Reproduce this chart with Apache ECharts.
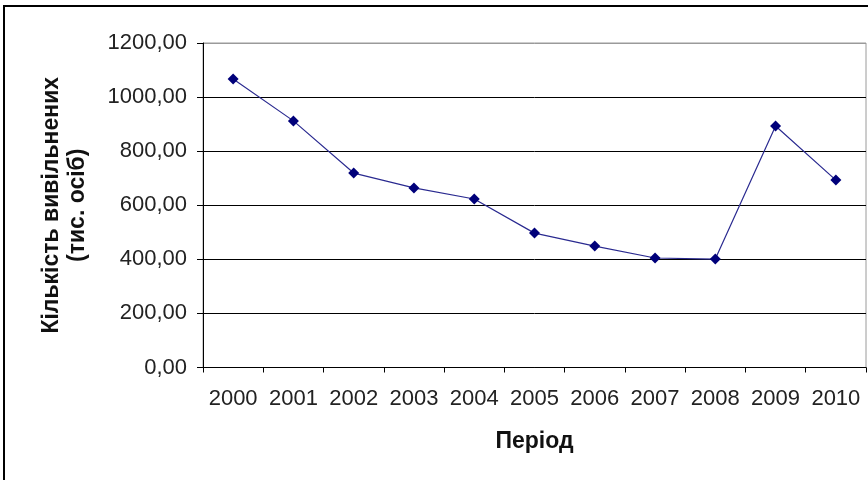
<!DOCTYPE html>
<html>
<head>
<meta charset="utf-8">
<script src="https://cdn.jsdelivr.net/npm/echarts@6/dist/echarts.min.js"></script>
<style>
html,body{margin:0;padding:0;background:#fff;}
#frame{position:absolute;left:3px;top:5px;width:900px;height:500px;border:2px solid #000;box-sizing:border-box;}
#chart{position:absolute;left:0;top:0;width:868px;height:480px;}
</style>
</head>
<body>
<div id="frame"></div>
<div id="chart"></div>
<script>
const categories = ['2000','2001','2002','2003','2004','2005','2006','2007','2008','2009','2010'];
const values = [1067, 912, 719, 664, 623, 497, 449, 405, 401, 893, 693];
const yMin = 0, yMax = 1200, yStep = 200;
const xTitle = 'Період';
const yTitle = 'Кількість вивільнених\n(тис. осіб)';

const font = '"Liberation Sans", Arial, sans-serif';
const chart = echarts.init(document.getElementById('chart'), null, {renderer:'canvas'});
chart.setOption({
  backgroundColor: 'transparent',
  animation: false,
  grid: {left: 203, right: 2, top: 43, bottom: 112.5, show: true, borderColor: '#9a9a9a', borderWidth: 1, backgroundColor: 'transparent'},
  xAxis: {
    type: 'category',
    data: categories,
    boundaryGap: true,
    axisLine: {lineStyle: {color: '#000', width: 1}},
    axisTick: {show: true, length: 5, alignWithLabel: false, lineStyle: {color: '#000'}},
    axisLabel: {fontSize: 22, color: '#222', fontFamily: font, margin: 20, interval: 0},
    name: xTitle,
    nameLocation: 'middle',
    nameGap: 63,
    nameTextStyle: {fontSize: 23, fontWeight: 'bold', color: '#111', fontFamily: font}
  },
  yAxis: {
    type: 'value',
    min: yMin, max: yMax, interval: yStep,
    axisLine: {show: true, lineStyle: {color: '#000', width: 1}},
    axisTick: {show: true, length: 6, inside: false, lineStyle: {color: '#000'}},
    axisLabel: {fontSize: 22, color: '#222', fontFamily: font, margin: 16,
      formatter: v => v.toFixed(2).replace('.', ',')},
    splitLine: {show: true, lineStyle: {color: ['#000','#000','#000','#000','#000','#000','#9a9a9a'], width: 1}},
    name: yTitle,
    nameLocation: 'middle',
    nameRotate: 90,
    nameGap: 112,
    nameTextStyle: {fontSize: 23, fontWeight: 'bold', color: '#111', fontFamily: font, lineHeight: 26, align: 'center'}
  },
  series: [{
    type: 'line',
    data: values,
    symbol: 'diamond',
    symbolSize: 11,
    itemStyle: {color: '#00007a'},
    lineStyle: {color: '#2a2a90', width: 1.2},
    z: 5
  }]
});
</script>
</body>
</html>
